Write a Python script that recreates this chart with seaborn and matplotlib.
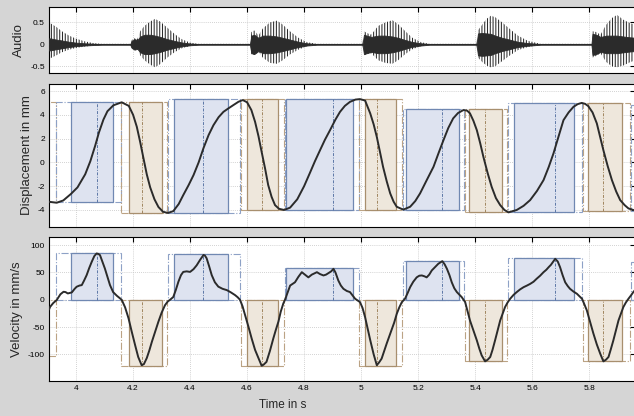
import matplotlib
matplotlib.use("Agg")
import matplotlib.pyplot as plt
from matplotlib.patches import Rectangle
import pandas as pd
import seaborn as sns

# ---------------- audio envelope (V) ----------------
audio_t = [3.905, 3.915, 3.93, 3.95, 3.975, 4.0, 4.03, 4.06, 4.09,
           4.19, 4.195, 4.205, 4.215, 4.225, 4.24, 4.26, 4.277, 4.295, 4.32, 4.345, 4.37, 4.40, 4.43,
           4.61, 4.615, 4.625, 4.64, 4.655, 4.68, 4.705, 4.725, 4.75, 4.78, 4.81, 4.845,
           5.005, 5.01, 5.02, 5.035, 5.06, 5.085, 5.11, 5.13, 5.155, 5.18, 5.21, 5.24,
           5.405, 5.41, 5.425, 5.44, 5.455, 5.47, 5.495, 5.52, 5.55, 5.585, 5.63,
           5.808, 5.812, 5.825, 5.84, 5.86, 5.88, 5.898, 5.92, 5.945, 5.965]
audio_hi = [0.50, 0.46, 0.40, 0.30, 0.20, 0.13, 0.07, 0.03, 0.012,
            0.012, 0.10, 0.14, 0.12, 0.30, 0.42, 0.52, 0.58, 0.52, 0.38, 0.24, 0.12, 0.04, 0.012,
            0.012, 0.28, 0.32, 0.20, 0.36, 0.50, 0.54, 0.45, 0.30, 0.15, 0.05, 0.012,
            0.012, 0.30, 0.26, 0.22, 0.42, 0.50, 0.55, 0.46, 0.30, 0.15, 0.05, 0.012,
            0.012, 0.32, 0.45, 0.58, 0.65, 0.62, 0.50, 0.36, 0.20, 0.08, 0.012,
            0.012, 0.30, 0.28, 0.22, 0.45, 0.60, 0.67, 0.56, 0.48, 0.44]
audio_lo = [-0.32, -0.30, -0.25, -0.18, -0.12, -0.08, -0.05, -0.025, -0.012,
            -0.012, -0.08, -0.12, -0.10, -0.25, -0.36, -0.46, -0.52, -0.45, -0.30, -0.18, -0.09, -0.035, -0.012,
            -0.012, -0.22, -0.24, -0.16, -0.30, -0.42, -0.44, -0.36, -0.23, -0.12, -0.04, -0.012,
            -0.012, -0.25, -0.22, -0.20, -0.36, -0.42, -0.44, -0.36, -0.22, -0.11, -0.04, -0.012,
            -0.012, -0.30, -0.40, -0.48, -0.52, -0.50, -0.38, -0.26, -0.13, -0.06, -0.012,
            -0.012, -0.30, -0.26, -0.20, -0.40, -0.50, -0.52, -0.48, -0.40, -0.36]
audio_core = [0.14, 0.13, 0.11, 0.09, 0.06, 0.04, 0.025, 0.015, 0.008,
              0.008, 0.08, 0.12, 0.10, 0.18, 0.22, 0.22, 0.20, 0.17, 0.12, 0.08, 0.045, 0.02, 0.008,
              0.008, 0.20, 0.22, 0.15, 0.20, 0.20, 0.18, 0.15, 0.11, 0.06, 0.025, 0.008,
              0.008, 0.22, 0.20, 0.17, 0.20, 0.20, 0.18, 0.15, 0.10, 0.055, 0.025, 0.008,
              0.008, 0.25, 0.26, 0.25, 0.24, 0.20, 0.15, 0.11, 0.06, 0.03, 0.008,
              0.008, 0.24, 0.22, 0.17, 0.20, 0.20, 0.20, 0.18, 0.16, 0.15]

# ---------------- articulator displacement (mm) ----------------
disp_t = [3.905, 3.932, 3.955, 3.982, 4.005, 4.032, 4.05, 4.067, 4.08, 4.096, 4.11, 4.131, 4.16,
          4.185, 4.2, 4.213, 4.225, 4.236, 4.248, 4.26, 4.275, 4.289, 4.305, 4.322, 4.341, 4.36,
          4.376, 4.395, 4.412, 4.43, 4.447, 4.465, 4.482, 4.5, 4.517, 4.535, 4.552, 4.57, 4.585,
          4.6, 4.615, 4.628, 4.64, 4.651, 4.663, 4.674, 4.686, 4.698, 4.712, 4.73, 4.751, 4.776,
          4.80, 4.821, 4.838, 4.856, 4.873, 4.891, 4.91, 4.926, 4.943, 4.961, 4.98, 4.996, 5.014,
          5.032, 5.044, 5.055, 5.066, 5.077, 5.09, 5.102, 5.114, 5.125, 5.148, 5.172, 5.19, 5.207,
          5.23, 5.254, 5.272, 5.289, 5.306, 5.323, 5.34, 5.359, 5.372, 5.382, 5.394, 5.406, 5.418,
          5.429, 5.444, 5.458, 5.473, 5.488, 5.503, 5.517, 5.546, 5.57, 5.593, 5.617, 5.64, 5.658,
          5.675, 5.693, 5.71, 5.728, 5.745, 5.76, 5.774, 5.786, 5.797, 5.812, 5.827, 5.838, 5.85,
          5.865, 5.88, 5.895, 5.909, 5.925, 5.938, 5.955, 5.965]
disp_mm = [-3.31, -3.39, -3.2, -2.65, -2.1, -1.0, 0.1, 1.4, 2.5, 3.6, 4.3, 4.8, 5.05,
           4.75, 4.0, 3.0, 1.7, 0.4, -1.0, -2.1, -3.1, -3.75, -4.15, -4.25, -4.1, -3.5,
           -2.75, -1.9, -1.07, 0.0, 1.2, 2.3, 3.13, 3.8, 4.25, 4.55, 4.82, 5.1, 5.24,
           5.05, 4.4, 3.41, 2.2, 0.89, -0.5, -1.9, -2.9, -3.59, -3.9, -4.0, -3.8, -3.1,
           -2.0, -0.85, 0.1, 1.03, 1.9, 2.71, 3.6, 4.25, 4.75, 5.09, 5.28, 5.32, 5.2,
           4.12, 3.2, 2.15, 0.9, -0.37, -1.6, -2.6, -3.3, -3.73, -3.97, -3.73, -3.25, -2.6,
           -1.5, -0.37, 0.8, 1.87, 2.9, 3.7, 4.15, 4.4, 4.35, 4.12, 3.5, 2.71, 1.6,
           0.47, -0.9, -2.05, -3.0, -3.59, -4.0, -4.2, -4.0, -3.65, -3.17, -2.4, -1.49, -0.4,
           0.76, 2.2, 3.55, 4.2, 4.67, 4.9, 5.0, 4.92, 4.73, 4.2, 3.28, 2.2, 1.03,
           -0.3, -1.49, -2.45, -3.17, -3.6, -3.87, -4.0, -4.05]

# ---------------- articulator velocity (mm/s) ----------------
vel_t = [3.905, 3.909, 3.92, 3.932, 3.945, 3.956, 3.963, 3.971, 3.985, 3.995, 4.002, 4.012, 4.020,
         4.028, 4.037, 4.046, 4.055, 4.064, 4.072, 4.078, 4.084, 4.092, 4.101, 4.11, 4.119, 4.13,
         4.143, 4.152, 4.160, 4.172, 4.184, 4.195, 4.207, 4.218, 4.230, 4.238, 4.248, 4.257, 4.266,
         4.278, 4.289, 4.30, 4.312, 4.322, 4.330, 4.341, 4.35, 4.359, 4.368, 4.376, 4.388, 4.4,
         4.412, 4.423, 4.435, 4.447, 4.452, 4.458, 4.467, 4.476, 4.487, 4.499, 4.514, 4.529, 4.543,
         4.558, 4.567, 4.575, 4.584, 4.593, 4.605, 4.616, 4.628, 4.640, 4.651, 4.658, 4.668, 4.68,
         4.692, 4.701, 4.710, 4.718, 4.727, 4.733, 4.742, 4.751, 4.768, 4.78, 4.792, 4.803, 4.815,
         4.827, 4.839, 4.845, 4.856, 4.868, 4.877, 4.885, 4.895, 4.903, 4.91, 4.920, 4.929, 4.938,
         4.95, 4.961, 4.97, 4.979, 4.996, 5.005, 5.014, 5.023, 5.032, 5.044, 5.055, 5.063, 5.072,
         5.081, 5.090, 5.099, 5.107, 5.116, 5.125, 5.134, 5.143, 5.154, 5.163, 5.172, 5.183, 5.195,
         5.204, 5.213, 5.222, 5.230, 5.239, 5.248, 5.26, 5.271, 5.285, 5.293, 5.301, 5.31, 5.318,
         5.327, 5.336, 5.345, 5.353, 5.365, 5.373, 5.382, 5.394, 5.406, 5.415, 5.423, 5.435, 5.444,
         5.453, 5.461, 5.470, 5.479, 5.488, 5.497, 5.505, 5.514, 5.523, 5.535, 5.546, 5.558, 5.570,
         5.582, 5.593, 5.605, 5.616, 5.628, 5.640, 5.650, 5.658, 5.666, 5.673, 5.681, 5.69, 5.698,
         5.707, 5.716, 5.725, 5.733, 5.745, 5.757, 5.767, 5.775, 5.783, 5.792, 5.803, 5.815, 5.827,
         5.839, 5.850, 5.859, 5.868, 5.876, 5.885, 5.894, 5.903, 5.912, 5.920, 5.929, 5.938, 5.947,
         5.955, 5.965]
vel_mms = [-18, -13, -6, -0.6, 10, 14.6, 14, 11.5, 13.4, 20, 23.8, 26, 26.8,
           35, 45, 58, 69.6, 80, 84.8, 84, 81.7, 70, 57.3, 42, 26.8, 14,
           7.3, 3.5, 0, -14, -34, -58, -83, -105, -120, -118, -107, -93, -77,
           -58, -40, -24, -10, -3, 0, 5, 18, 33, 45, 51, 52, 51,
           56, 63, 73, 82, 81, 76, 61, 45, 32, 24, 20, 17.6, 13.5,
           8.4, 4.5, 0, -12, -28, -50, -71, -92, -107, -121, -119, -114, -94,
           -71, -55, -40, -22, -7, 0, 13, 26, 32, 42, 50.5, 46, 41,
           46, 49, 50.5, 47, 44.5, 46, 48.7, 52, 56.7, 50, 35.3, 26, 20,
           16, 14, 8, 1.8, -4.3, -15, -32, -53, -74, -100, -120, -115, -108,
           -94, -80, -67, -56, -42, -26, -14, -4.3, 1.8, 12, 23, 33, 41,
           44, 44.5, 43, 41, 46, 53.7, 60, 66, 70.7, 65, 56.8, 45, 32,
           21, 14, 9, 4.8, -4.3, -20, -38, -56, -74.5, -90, -102, -113, -110,
           -105, -92, -74.5, -56, -38, -25, -13.5, -5, 1.8, 9, 14, 19, 23,
           26, 29, 33, 38.5, 44, 50.5, 55, 59.7, 64, 69, 75, 70, 59.7,
           45, 32, 25, 20, 15, 11, 6, 1.8, -8, -19.6, -40, -62, -82,
           -99, -113, -110, -105, -91, -74.5, -56, -38, -25, -13.5, -5, 1.8, 8,
           14, 20]

# ---------------- movement segments ----------------
seg_kind = ["close", "open", "close", "open", "close", "open",
            "close", "open", "close", "open", "close", "open"]
seg_outer_on = [3.78, 3.930, 4.158, 4.322, 4.578, 4.733, 4.993, 5.148, 5.364, 5.515, 5.778, 5.946]
seg_outer_off = [3.930, 4.156, 4.320, 4.575, 4.731, 4.991, 5.145, 5.362, 5.511, 5.774, 5.944, 6.10]
seg_inner_on = [3.80, 3.982, 4.184, 4.344, 4.599, 4.737, 5.012, 5.157, 5.380, 5.538, 5.795, 5.975]
seg_inner_off = [3.885, 4.129, 4.301, 4.532, 4.710, 4.970, 5.122, 5.345, 5.494, 5.748, 5.915, 6.05]
seg_peak_t = [3.845, 4.072, 4.233, 4.447, 4.651, 4.903, 5.057, 5.285, 5.435, 5.681, 5.850, 6.02]
seg_disp_from = [5.05, -3.36, 5.05, -4.27, 5.32, -4.0, 5.32, -4.0, 4.45, -4.2, 5.0, -4.12]
seg_disp_to = [-3.36, 5.05, -4.27, 5.32, -4.0, 5.32, -4.0, 4.45, -4.2, 5.0, -4.12, 4.8]
seg_peak_vel = [-103, 85, -122, 83, -122, 58, -122, 71, -113, 76, -113, 70]

# ---------------- styling ----------------
sns.set_theme(style="white")
plt.rcParams["font.family"] = ["Liberation Sans", "DejaVu Sans"]
plt.rcParams["axes.unicode_minus"] = False
plt.rcParams["hatch.linewidth"] = 0.75

BG = "#d5d5d5"
INK = "#2b2b2b"
STYLE = {
    "open": dict(fill="#dee3f0", edge="#7088b2", outer="#8da1c6", peak="#5c77a6"),
    "close": dict(fill="#eee7dc", edge="#a88f6e", outer="#bba384", peak="#a0855f"),
}

fig = plt.figure(figsize=(6.34, 4.16), dpi=100, facecolor=BG)
L, W = 49 / 634, 586.3 / 634
ax_a = fig.add_axes([L, 343 / 416, W, 66 / 416])
ax_d = fig.add_axes([L, 189 / 416, W, 143 / 416])
ax_v = fig.add_axes([L, 35 / 416, W, 144 / 416])

XLIM = (3.905, 5.962)
for ax in (ax_a, ax_d, ax_v):
    ax.set_facecolor("white")
    ax.set_xlim(*XLIM)
    ax.set_xticks([4.0, 4.2, 4.4, 4.6, 4.8, 5.0, 5.2, 5.4, 5.6, 5.8])
    ax.grid(True, color="#c4c4c4", linestyle=(0, (1, 1.5)), linewidth=0.6)
    ax.set_axisbelow(True)
    ax.tick_params(direction="in", top=True, right=True, length=3.5, width=0.8,
                   labelsize=6, pad=3, colors="black")
    for s in ax.spines.values():
        s.set_color("black")
        s.set_linewidth(0.8)

# ---------------- audio ----------------
ax_a.fill_between(audio_t, audio_lo, audio_hi, facecolor="none", edgecolor=INK,
                  hatch="||||||", linewidth=0, zorder=2)
core_lo = [-c for c in audio_core]
ax_a.fill_between(audio_t, core_lo, audio_core, color=INK, linewidth=0.6, zorder=3)
ax_a.axhline(0, color=INK, lw=0.8, zorder=3)
ax_a.set_ylim(-0.65, 0.85)
ax_a.set_yticks([-0.5, 0, 0.5])
ax_a.set_yticklabels(["-0.5", "0", "0.5"])
ax_a.set_ylabel("Audio", fontsize=9.5)
ax_a.tick_params(labelbottom=False)


def draw_segments(ax, lows, highs):
    for i, kind in enumerate(seg_kind):
        st = STYLE[kind]
        lo, hi = lows[i], highs[i]
        ax.add_patch(Rectangle((seg_outer_on[i], lo), seg_outer_off[i] - seg_outer_on[i], hi - lo,
                               fill=False, edgecolor=st["outer"], linestyle="-.", linewidth=0.8,
                               zorder=2))
        ax.add_patch(Rectangle((seg_inner_on[i], lo), seg_inner_off[i] - seg_inner_on[i], hi - lo,
                               facecolor=st["fill"], edgecolor=st["edge"], linewidth=0.9,
                               zorder=2.5))
        ax.plot([seg_peak_t[i], seg_peak_t[i]], [lo, hi], color=st["peak"],
                linestyle=(0, (3, 1.5, 1, 1.5)), linewidth=0.7, zorder=3)


# ---------------- displacement ----------------
d_lo = [min(a, b) for a, b in zip(seg_disp_from, seg_disp_to)]
d_hi = [max(a, b) for a, b in zip(seg_disp_from, seg_disp_to)]
draw_segments(ax_d, d_lo, d_hi)
disp_df = pd.DataFrame({"t": disp_t, "d": disp_mm})
sns.lineplot(data=disp_df, x="t", y="d", ax=ax_d, color=INK, linewidth=1.4,
             estimator=None, sort=False, zorder=4)
ax_d.set_ylim(-5.43, 6.59)
ax_d.set_yticks([-4, -2, 0, 2, 4, 6])
ax_d.set_ylabel("Displacement in mm", fontsize=9.5)
ax_d.set_xlabel("")
ax_d.tick_params(labelbottom=False)

# ---------------- velocity ----------------
v_lo = [min(0, v) for v in seg_peak_vel]
v_hi = [max(0, v) for v in seg_peak_vel]
draw_segments(ax_v, v_lo, v_hi)
vel_df = pd.DataFrame({"t": vel_t, "v": vel_mms})
sns.lineplot(data=vel_df, x="t", y="v", ax=ax_v, color=INK, linewidth=1.4,
             estimator=None, sort=False, zorder=4)
ax_v.set_ylim(-149, 115)
ax_v.set_yticks([-100, -50, 0, 50, 100])
ax_v.set_ylabel("Velocity in mm/s", fontsize=9.5)
ax_v.set_xticklabels(["4", "4.2", "4.4", "4.6", "4.8", "5", "5.2", "5.4", "5.6", "5.8"])
ax_v.set_xlabel("Time in s", fontsize=8.5, va="center")
ax_v.xaxis.set_label_coords((283 - 49) / 586.3, -(405 - 381) / 144)

ax_a.yaxis.set_label_coords(-0.041, 0.5)
ax_d.yaxis.set_label_coords(-0.028, 0.5)
ax_v.yaxis.set_label_coords(-0.045, 0.5)

fig.savefig("out.png", dpi=100, facecolor=BG)
